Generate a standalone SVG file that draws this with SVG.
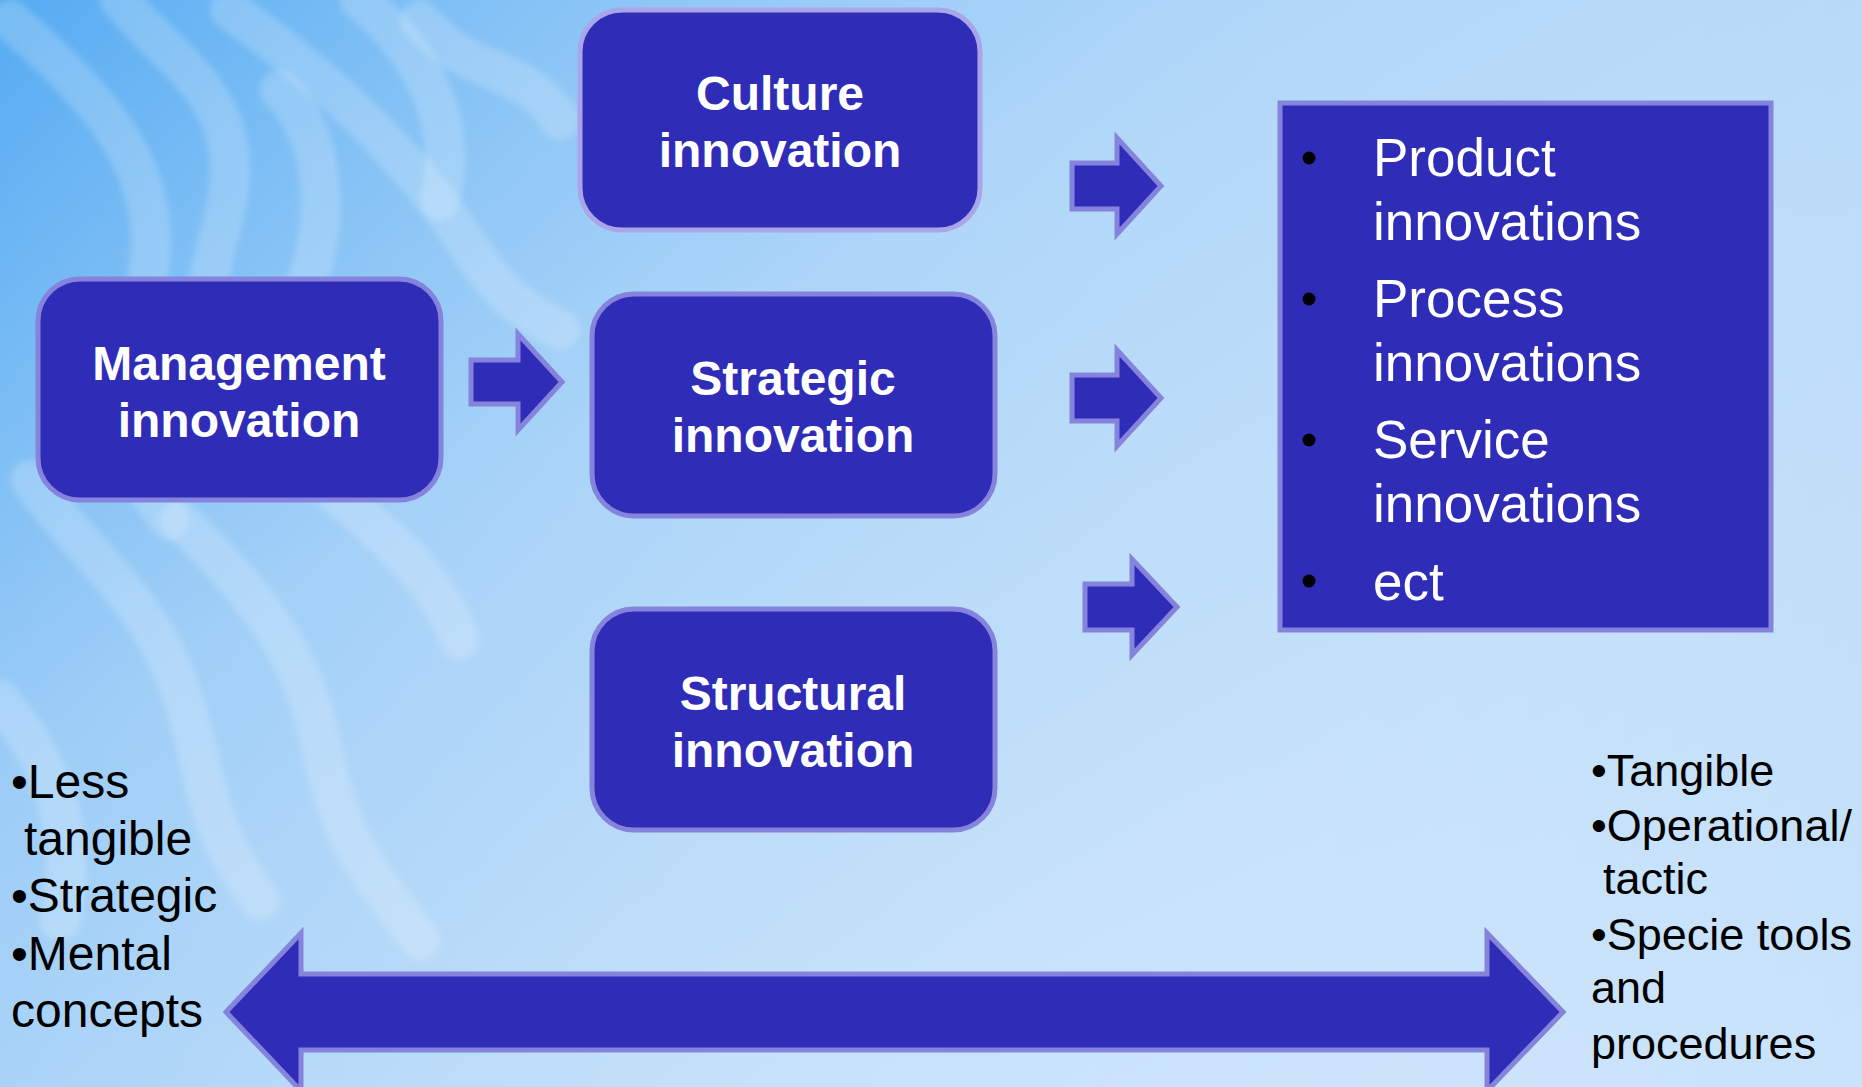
<svg xmlns="http://www.w3.org/2000/svg" width="1862" height="1087" viewBox="0 0 1862 1087">
  <defs>
    <linearGradient id="bg" x1="0" y1="0" x2="1" y2="1">
      <stop offset="0" stop-color="#55abf2"/>
      <stop offset="0.35" stop-color="#9bccf7"/>
      <stop offset="0.7" stop-color="#bcdcf9"/>
      <stop offset="1" stop-color="#cde5fb"/>
    </linearGradient>
    <linearGradient id="fade" x1="0" y1="0" x2="1" y2="0">
      <stop offset="0" stop-color="#ffffff" stop-opacity="0"/>
      <stop offset="1" stop-color="#c4e0fa" stop-opacity="1"/>
    </linearGradient>
    <filter id="soft" x="-10%" y="-10%" width="120%" height="120%">
      <feGaussianBlur stdDeviation="3"/>
    </filter>
    <style>
      .box { fill: #2f2db8; stroke: #8583dc; stroke-width: 5; }
      .light { stroke: #a9a5e8; }
      .label { font-family: "Liberation Sans", Arial, sans-serif; font-weight: bold; font-size: 48px; fill: #ffffff; text-anchor: middle; }
      .item { font-family: "Liberation Sans", Arial, sans-serif; font-size: 53px; fill: #ffffff; }
      .note { font-family: "Liberation Sans", Arial, sans-serif; font-size: 48px; fill: #000000; }
      .note-r { font-family: "Liberation Sans", Arial, sans-serif; font-size: 45px; fill: #000000; }
      .arrow { fill: #2f2db8; stroke: #8583dc; stroke-width: 5; stroke-linejoin: miter; }
      .chain { fill: none; stroke: #ffffff; stroke-opacity: 0.2; stroke-width: 40; stroke-linecap: round; }
    </style>
  </defs>

  <!-- background with faint chain-like swirls on the left -->
  <rect x="0" y="0" width="1862" height="1087" fill="url(#bg)"/>
  <g id="swirls" filter="url(#soft)">
    <path class="chain" d="M10 20 C 90 90, 160 160, 150 260 S 90 420, 170 520"/>
    <path class="chain" d="M120 0 C 170 60, 230 90, 230 170 S 170 300, 250 380"/>
    <path class="chain" d="M230 10 C 300 60, 360 110, 420 180 S 480 290, 560 330"/>
    <path class="chain" d="M360 0 C 420 50, 460 120, 440 200"/>
    <path class="chain" d="M280 90 C 330 140, 330 230, 300 300"/>
    <path class="chain" d="M30 480 C 90 560, 150 600, 180 690 S 200 820, 260 900"/>
    <path class="chain" d="M180 520 C 240 580, 300 640, 320 740 S 360 860, 420 940"/>
    <path class="chain" d="M300 460 C 360 520, 430 560, 460 640"/>
    <path class="chain" d="M0 700 C 50 760, 80 830, 60 920"/>
    <path class="chain" d="M420 20 C 470 80, 520 60, 560 120"/>
  </g>
  <rect x="0" y="0" width="1862" height="1087" fill="url(#fade)" opacity="0.55"/>

  <!-- connectors -->
  <g id="connectors">
    <path class="arrow" d="M471 360 H518 V334 L562 382 L518 430 V404 H471 Z"/>
    <path class="arrow" d="M1072 163 H1117 V138 L1161 186 L1117 234 V209 H1072 Z"/>
    <path class="arrow" d="M1072 375 H1117 V350 L1161 398 L1117 446 V421 H1072 Z"/>
    <path class="arrow" d="M1085 584 H1132 V559 L1177 607 L1132 655 V630 H1085 Z"/>
    <path class="arrow" d="M226 1012 L301 933 V974 H1487 V933 L1563 1012 L1487 1091 V1050 H301 V1091 Z"/>
  </g>

  <g id="culture">
    <rect class="box light" x="580" y="10" width="400" height="220" rx="42"/>
    <text class="label" x="780" y="110">Culture</text>
    <text class="label" x="780" y="167">innovation</text>
  </g>

  <g id="management">
    <rect class="box" x="38" y="279" width="403" height="221" rx="42"/>
    <text class="label" x="239" y="380">Management</text>
    <text class="label" x="239" y="437">innovation</text>
  </g>

  <g id="strategic">
    <rect class="box" x="592" y="294" width="403" height="222" rx="42"/>
    <text class="label" x="793" y="395">Strategic</text>
    <text class="label" x="793" y="452">innovation</text>
  </g>

  <g id="structural">
    <rect class="box" x="592" y="609" width="403" height="221" rx="42"/>
    <text class="label" x="793" y="710">Structural</text>
    <text class="label" x="793" y="767">innovation</text>
  </g>

  <g id="outcomes">
    <rect class="box" x="1280" y="103" width="491" height="527"/>
    <circle cx="1309" cy="158" r="6.5" fill="#000"/>
    <circle cx="1309" cy="299" r="6.5" fill="#000"/>
    <circle cx="1309" cy="440" r="6.5" fill="#000"/>
    <circle cx="1309" cy="581" r="6.5" fill="#000"/>
    <text class="item" x="1373" y="176">Product</text>
    <text class="item" x="1373" y="240">innovations</text>
    <text class="item" x="1373" y="317">Process</text>
    <text class="item" x="1373" y="381">innovations</text>
    <text class="item" x="1373" y="458">Service</text>
    <text class="item" x="1373" y="522">innovations</text>
    <text class="item" x="1373" y="600">ect</text>
  </g>

  <g id="left-notes">
    <text class="note" x="11" y="798">•Less</text>
    <text class="note" x="24" y="855">tangible</text>
    <text class="note" x="11" y="912">•Strategic</text>
    <text class="note" x="11" y="970">•Mental</text>
    <text class="note" x="11" y="1027">concepts</text>
  </g>

  <g id="right-notes">
    <text class="note-r" x="1591" y="786">•Tangible</text>
    <text class="note-r" x="1591" y="841">•Operational/</text>
    <text class="note-r" x="1603" y="894">tactic</text>
    <text class="note-r" x="1591" y="950">•Specie tools</text>
    <text class="note-r" x="1591" y="1003">and</text>
    <text class="note-r" x="1591" y="1059">procedures</text>
  </g>
</svg>
